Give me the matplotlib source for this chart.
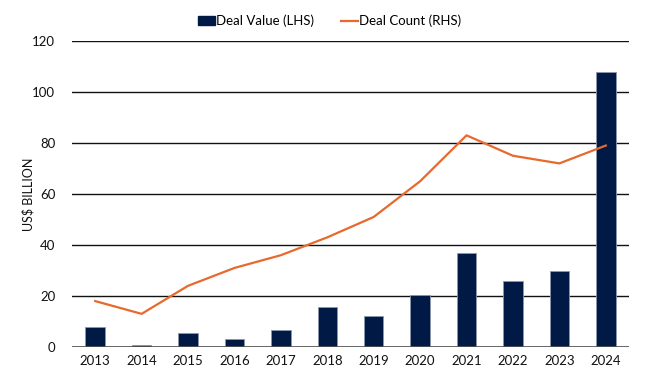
import matplotlib
matplotlib.use('Agg')
import matplotlib.pyplot as plt
from matplotlib.lines import Line2D
from matplotlib.patches import Patch

plt.rcParams['font.family'] = ['Lato', 'DejaVu Sans']

years = ['2013', '2014', '2015', '2016', '2017', '2018', '2019', '2020', '2021', '2022', '2023', '2024']
deal_value = [8, 0.7, 5.5, 3.3, 6.5, 15.5, 12, 20.5, 37, 26, 30, 108]
deal_count = [18, 13, 24, 31, 36, 43, 51, 65, 83, 75, 72, 79]

navy = '#001a45'
orange = '#e8692c'

fig = plt.figure(figsize=(6.59, 3.75), dpi=100)
ax = fig.add_axes([72/659, 1-347/375, 557/659, 306/375])
x = list(range(len(years)))
ax.bar(x, deal_value, width=0.42, color=navy, edgecolor='#8a97ad', linewidth=0.6, zorder=3)
ax.set_xlim(-0.5, 11.5)
ax.set_ylim(0, 120)
ax.set_yticks(range(0, 121, 20))
ax.set_xticks(x)
ax.set_xticklabels(years)
ax.grid(axis='y', color='#111111', linewidth=1.0, zorder=0)
for s in ['top', 'right', 'left', 'bottom']:
    ax.spines[s].set_visible(False)
ax.axhline(0, color='#555555', linewidth=1.2, zorder=4)
ax.tick_params(axis='both', length=0, labelsize=9.5, colors='#111111')
ax.tick_params(axis='x', pad=6)
ax.tick_params(axis='y', pad=12)
ax.set_ylabel('US$ BILLION', fontsize=9, color='#111111')
ax.yaxis.set_label_coords(-38/557, 0.5)

ax2 = ax.twinx()
ax2.plot(x, deal_count, color=orange, linewidth=1.6, zorder=5)
ax2.set_ylim(0, 120)
ax2.set_yticks([])
for s in ['top', 'right', 'left', 'bottom']:
    ax2.spines[s].set_visible(False)

handles = [Patch(facecolor=navy, edgecolor=navy), Line2D([0], [0], color=orange, linewidth=1.6)]
fig.legend(handles, ['Deal Value (LHS)', 'Deal Count (RHS)'], loc='center', bbox_to_anchor=(0.5, 1-21/375),
           ncol=2, frameon=False, fontsize=9.5, handlelength=1.3, handletextpad=0.1, columnspacing=2.0,
           handleheight=0.7)

fig.savefig('out.png', dpi=100)
